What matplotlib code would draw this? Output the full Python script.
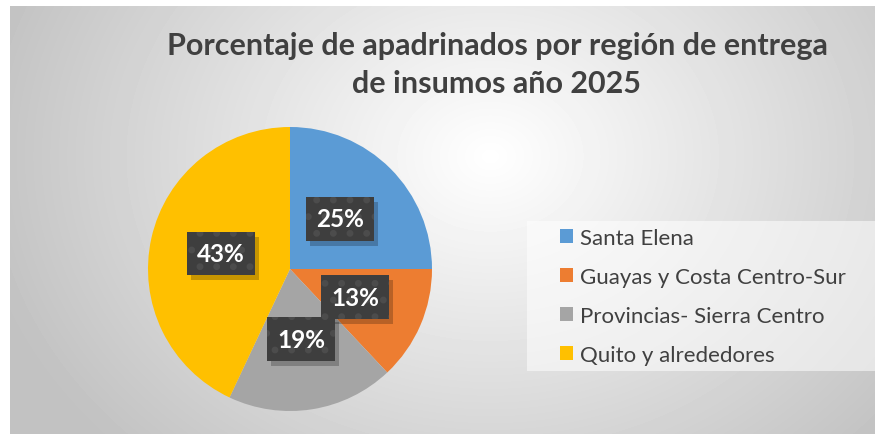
import numpy as np
import matplotlib
matplotlib.use('Agg')
import matplotlib.pyplot as plt
from matplotlib.patches import Rectangle
from matplotlib.transforms import IdentityTransform

# datos del grafico
regiones = ['Santa Elena', 'Guayas y Costa Centro-Sur',
            'Provincias- Sierra Centro', 'Quito y alrededores']
porcentajes = [25, 13, 19, 43]
colores = ['#5B9BD5', '#ED7D31', '#A5A5A5', '#FFC000']
titulo = 'Porcentaje de apadrinados por región de entrega\nde insumos año 2025'

plt.rcParams['font.family'] = ['Lato', 'DejaVu Sans']

W, H = 875, 435
fig = plt.figure(figsize=(W / 100, H / 100), dpi=100)

# fondo con degradado radial (estilo Excel)
bg = fig.add_axes([10 / W, 0, (W - 10) / W, (H - 7) / H])
yy, xx = np.mgrid[0:428, 0:865]
d = np.sqrt(((xx - 480) / 520.0) ** 2 + ((yy - 150) / 420.0) ** 2)
g = np.clip(1.0 - 0.24 * d, 0.76, 1.0)
bg.imshow(g, cmap='gray', vmin=0, vmax=1, aspect='auto', interpolation='bilinear')
bg.axis('off')

fig.text(497 / W, 1 - 65 / H, titulo, ha='center', va='center',
         fontsize=22, fontweight='bold', color='#404040', linespacing=1.45)

# recuadro de la leyenda (pixeles desde abajo)
bg.add_artist(Rectangle((527, H - 372), 348, 150, transform=IdentityTransform(),
                        fc='white', ec='none', alpha=0.55, clip_on=False))

# pastel
r_px = 142
half = 150
ax = fig.add_axes([(290 - half) / W, (H - 270 - half) / H, 2 * half / W, 2 * half / H])
lim = half / r_px
wedges, texts, autotexts = ax.pie(porcentajes, colors=colores, startangle=90,
                                  counterclock=False, autopct='%1.0f%%',
                                  pctdistance=0.5, radius=1)
ax.set_xlim(-lim, lim)
ax.set_ylim(-lim, lim)
ax.set_aspect('equal')
ax.axis('off')

plt.rcParams['hatch.linewidth'] = 2.5
for t in autotexts:
    t.set_fontsize(17.5)
    t.set_fontweight('bold')
    t.set_color('white')
    t.set_bbox(dict(boxstyle='square,pad=0.42', fc='#3e3e3e', ec='#4c4c4c',
                    hatch='.', lw=0))
    t.set_zorder(5)

# sombras de las etiquetas
fig.canvas.draw()
for t in autotexts:
    bb = t.get_bbox_patch().get_window_extent()
    ax.add_artist(Rectangle((bb.x0 + 4, bb.y0 - 5), bb.width, bb.height,
                            transform=IdentityTransform(), fc='black', ec='none',
                            alpha=0.22, zorder=4, clip_on=False))

leg = fig.legend(wedges, regiones, loc='upper left',
                 bbox_to_anchor=(560 / W, 1 - 229 / H), fontsize=16,
                 frameon=False, handlelength=0.6, handleheight=0.6,
                 handletextpad=0.3, labelspacing=0.85, borderpad=0,
                 borderaxespad=0)
for txt in leg.get_texts():
    txt.set_color('#404040')

fig.savefig('out.png', dpi=100)
